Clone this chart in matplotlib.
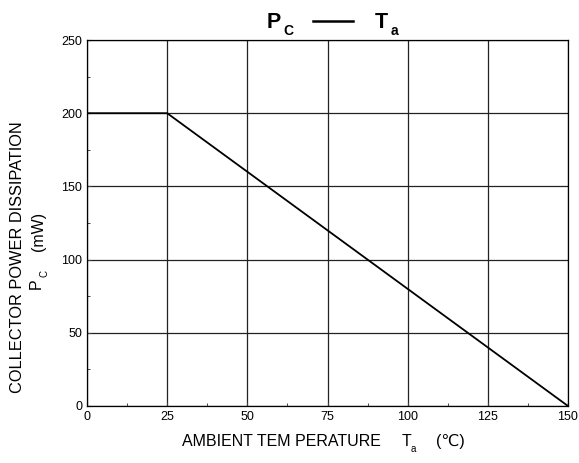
import matplotlib
matplotlib.use("Agg")
import matplotlib.pyplot as plt
from matplotlib.ticker import MultipleLocator
from matplotlib.lines import Line2D

plt.rcParams['font.family'] = ['Liberation Sans', 'DejaVu Sans']

temp = [0, 25, 150]
power = [200, 200, 0]
x_ticks = [0, 25, 50, 75, 100, 125, 150]
y_ticks = [0, 50, 100, 150, 200, 250]

W, H = 579, 463
fig = plt.figure(figsize=(W/100, H/100), dpi=100)
L, R, T, B = 87, 568, 40, 406
ax = fig.add_axes([L/W, 1-B/H, (R-L)/W, (B-T)/H])
ax.plot(temp, power, color='black', lw=1.3, zorder=3)
ax.set_xlim(0, 150)
ax.set_ylim(0, 250)
ax.set_xticks(x_ticks)
ax.set_yticks(y_ticks)
ax.xaxis.set_minor_locator(MultipleLocator(12.5))
ax.yaxis.set_minor_locator(MultipleLocator(25))
ax.tick_params(which='both', direction='in', labelsize=9, color='#444444')
ax.tick_params(which='major', length=3, pad=3.5)
ax.tick_params(which='minor', length=2.5, width=0.7)
ax.grid(True, which='major', color='#222222', lw=0.9)
for s in ax.spines.values():
    s.set_linewidth(0.9)

def px(x, y):
    return x/W, 1-y/H

# Title: P_C ---- T_a
fig.text(*px(267, 28), 'P', fontsize=15.5, fontweight='bold', ha='left', va='baseline')
fig.text(*px(283, 35), 'C', fontsize=10, fontweight='bold', ha='left', va='baseline')
fig.add_artist(Line2D([313/W, 353/W], [1-21/H, 1-21/H], color='black', lw=1.8))
fig.text(*px(375, 28), 'T', fontsize=15.5, fontweight='bold', ha='left', va='baseline')
fig.text(*px(391, 35), 'a', fontsize=10, fontweight='bold', ha='left', va='baseline')

# X label
fig.text(*px(182, 446), 'AMBIENT TEM PERATURE', fontsize=11.5, ha='left', va='baseline')
fig.text(*px(402, 446), 'T', fontsize=11.5, ha='left', va='baseline')
fig.text(*px(411, 452), 'a', fontsize=7, ha='left', va='baseline')
fig.text(*px(436, 446), '(℃)', fontsize=11.5, ha='left', va='baseline')

# Y label
fig.text(*px(18, 257), 'COLLECTOR POWER DISSIPATION', rotation=90,
         ha='center', va='center', fontsize=11.8)
fig.text(*px(36, 289), 'P', rotation=90, ha='center', va='bottom', fontsize=11.5)
fig.text(*px(45, 277), 'C', rotation=90, ha='center', va='bottom', fontsize=7)
fig.text(*px(38, 251), '(mW)', rotation=90, ha='center', va='bottom', fontsize=11.5)

fig.savefig('out.png', dpi=100)
